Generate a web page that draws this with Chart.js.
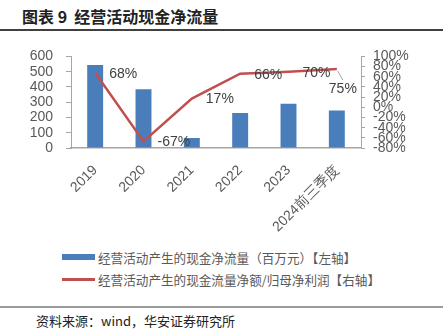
<!DOCTYPE html>
<html>
<head>
<meta charset="utf-8">
<script src="https://cdn.jsdelivr.net/npm/chart.js@4"></script>
<style>
  body { margin: 0; width: 443px; height: 332px; background: #fff; position: relative; overflow: hidden; font-family: "Noto Sans CJK SC", sans-serif; }
  #title { position: absolute; left: 22px; top: 4px; font-size: 16px; font-weight: bold; color: #222; white-space: nowrap; }
  #titleLine { position: absolute; left: 0; top: 29px; width: 443px; height: 1.5px; background: #404040; }
  #wrap { position: absolute; left: 0; top: 35px; width: 443px; height: 210px; }
  .leg { position: absolute; left: 62px; font-size: 12.6px; color: #595959; white-space: nowrap; }
  .leg span.box { position: absolute; left: 0; width: 33px; }
  .leg span.txt { position: absolute; left: 36px; top: 0; }
  #srcLine { position: absolute; left: 0; top: 306px; width: 443px; height: 2px; background: #9a9a9a; }
  #src { position: absolute; left: 36px; top: 311px; font-size: 13px; color: #222; white-space: nowrap; }
</style>
</head>
<body>
<div id="title">图表 9&nbsp;&nbsp;经营活动现金净流量</div>
<div id="titleLine"></div>
<div id="wrap"><canvas id="chart" width="443" height="210"></canvas></div>
<div id="legend"></div>
<div id="srcLine"></div>
<div id="src">资料来源：wind，华安证券研究所</div>
<script>
// values
const categories = ['2019', '2020', '2021', '2022', '2023', '2024前三季度'];
const cashFlow = [543, 385, 65, 229, 290, 246];   // 百万元
const cashRatio = [68, -67, 17, 66, 70, 75];      // %
const seriesNames = [
    '经营活动产生的现金净流量（百万元）【左轴】',
    '经营活动产生的现金流量净额/归母净利润【右轴】'
];
const barColor = '#4a7ebb';
const lineColor = '#c0504d';
const axisColor = '#a6a6a6';
const tickColor = '#595959';

// percentage labels next to the line points
const lineLabels = {
    id: 'lineLabels',
    afterDatasetsDraw(chart) {
        const meta = chart.getDatasetMeta(0);
        const ctx = chart.ctx;
        ctx.save();
        ctx.font = '14px "Liberation Sans", Arial, sans-serif';
        ctx.fillStyle = '#404040';
        ctx.textBaseline = 'middle';
        meta.data.forEach((pt, i) => {
            const txt = cashRatio[i] + '%';
            if (i === meta.data.length - 1) {
                // last label sits below with a small leader line
                ctx.strokeStyle = '#a6a6a6';
                ctx.lineWidth = 1;
                ctx.beginPath();
                ctx.moveTo(pt.x + 1, pt.y + 2);
                ctx.lineTo(pt.x + 6, pt.y + 11);
                ctx.stroke();
                ctx.textAlign = 'center';
                ctx.fillText(txt, pt.x + 6, pt.y + 20);
            } else {
                ctx.textAlign = 'left';
                ctx.fillText(txt, pt.x + 14, pt.y + 1);
            }
        });
        ctx.restore();
    }
};

const tickFont = { family: '"Liberation Sans", Arial, sans-serif', size: 14 };

const chart = new Chart(document.getElementById('chart').getContext('2d'), {
    type: 'bar',
    data: {
        labels: categories,
        datasets: [
            {
                type: 'line',
                label: seriesNames[1],
                data: cashRatio,
                yAxisID: 'y1',
                borderColor: lineColor,
                backgroundColor: lineColor,
                borderWidth: 2.5,
                pointRadius: 0,
                tension: 0,
                order: 0
            },
            {
                type: 'bar',
                label: seriesNames[0],
                data: cashFlow,
                yAxisID: 'y',
                backgroundColor: barColor,
                categoryPercentage: 1,
                barPercentage: 0.33,
                order: 1
            }
        ]
    },
    options: {
        responsive: false,
        animation: false,
        layout: { padding: { top: 18, left: 0, right: 0, bottom: 0 } },
        plugins: {
            legend: { display: false },
            tooltip: { enabled: false }
        },
        scales: {
            x: {
                grid: { display: false },
                border: { display: true, color: axisColor, width: 1.5 },
                ticks: { color: tickColor, font: tickFont, minRotation: 45, maxRotation: 45, padding: 6, autoSkip: false },
                afterFit: s => { s.height = 97; }
            },
            y: {
                position: 'left',
                min: 0,
                max: 600,
                grid: { drawOnChartArea: false, drawTicks: true, tickLength: 5, color: axisColor },
                border: { display: true, color: axisColor },
                ticks: { stepSize: 100, color: tickColor, font: tickFont, padding: 13, autoSkip: false },
                afterFit: s => { s.width = 71; }
            },
            y1: {
                position: 'right',
                min: -80,
                max: 100,
                grid: { drawOnChartArea: false, drawTicks: true, tickLength: 4, color: axisColor },
                border: { display: true, color: axisColor },
                ticks: { stepSize: 20, color: tickColor, font: tickFont, padding: 8, autoSkip: false, callback: v => v + '%' },
                afterFit: s => { s.width = 82; }
            }
        }
    },
    plugins: [lineLabels]
});

// legend built from the datasets, bar first like the reference
const legend = document.getElementById('legend');
[
    { name: seriesNames[0], color: barColor, top: 248, boxTop: 6, boxH: 6 },
    { name: seriesNames[1], color: lineColor, top: 270, boxTop: 8, boxH: 2.5 }
].forEach(item => {
    const row = document.createElement('div');
    row.className = 'leg';
    row.style.top = item.top + 'px';
    row.innerHTML = '<span class="box" style="top:' + item.boxTop + 'px;height:' + item.boxH + 'px;background:' + item.color + '"></span>' +
        '<span class="txt">' + item.name + '</span>';
    legend.appendChild(row);
});
</script>
</body>
</html>
